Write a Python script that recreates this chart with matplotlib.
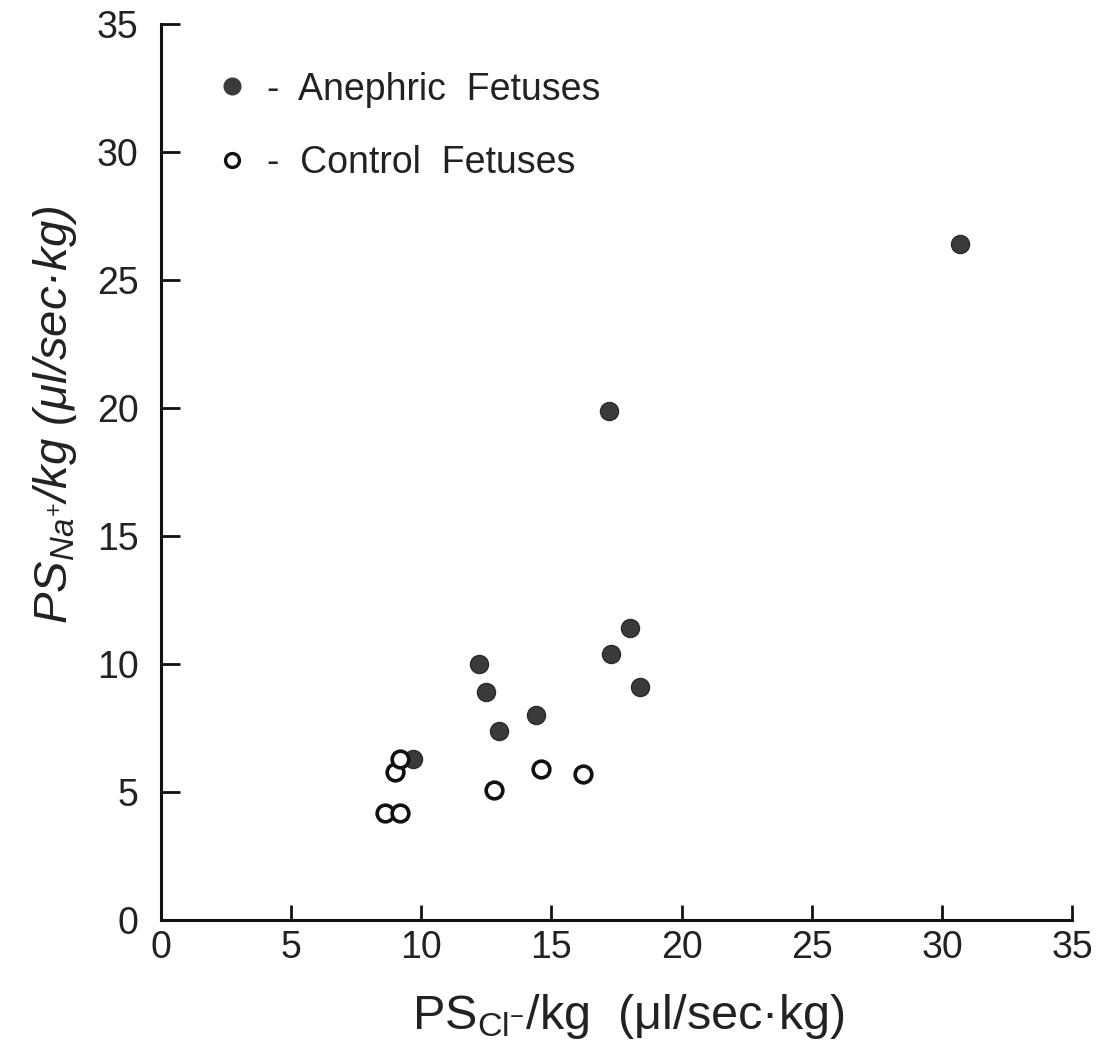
import matplotlib
matplotlib.use("Agg")
from matplotlib import pyplot as plt
from matplotlib.lines import Line2D

# anephric fetuses (filled)
aneph_x = [9.7, 12.2, 12.5, 13.0, 14.4, 17.2, 17.3, 18.0, 18.4, 30.7]
aneph_y = [6.3, 10.0, 8.9, 7.4, 8.0, 19.9, 10.4, 11.4, 9.1, 26.4]

# control fetuses (open)
ctrl_x = [8.6, 9.2, 9.0, 9.2, 12.8, 14.6, 16.2]
ctrl_y = [4.2, 4.2, 5.8, 6.3, 5.1, 5.9, 5.7]

ticks = [0, 5, 10, 15, 20, 25, 30, 35]

plt.rcParams['font.family'] = ['Liberation Sans', 'DejaVu Sans']
plt.rcParams['mathtext.fontset'] = 'custom'
plt.rcParams['mathtext.rm'] = 'Liberation Sans'
plt.rcParams['mathtext.it'] = 'Liberation Sans:italic'

fig = plt.figure(figsize=(11.02, 10.59), dpi=100)
ax = fig.add_axes([0.146, 0.131, 0.827, 0.846])

ax.plot(aneph_x, aneph_y, 'o', ms=13, color='#3a3a3a', mec='#2a2a2a', ls='none')
ax.plot(ctrl_x, ctrl_y, 'o', ms=12, mfc='white', mec='#111111', mew=2.6, ls='none')

ax.set_xlim(0, 35)
ax.set_ylim(0, 35)
ax.set_xticks(ticks)
ax.set_yticks(ticks)
ax.tick_params(direction='in', width=2, labelsize=27, color='#111111',
               labelcolor='#222222')
ax.tick_params(axis='x', pad=7, length=11)
ax.tick_params(axis='y', pad=16, length=14)

for s in ['top', 'right']:
    ax.spines[s].set_visible(False)
for s in ['left', 'bottom']:
    ax.spines[s].set_linewidth(2.2)
    ax.spines[s].set_color('#111111')

ax.set_xlabel(r"PS$_{\rm Cl^{-}}$/kg  (μl/sec·kg)", fontsize=35, color='#222222')
ax.xaxis.set_label_coords(0.513, -0.08)
ax.set_ylabel(r"PS$_{Na^{+}}$/kg (μl/sec·kg)", fontsize=34, style='italic',
              color='#222222')
ax.yaxis.set_label_coords(-0.09, 0.564)

handles = [
    Line2D([], [], marker='o', ls='none', ms=12, color='#3a3a3a'),
    Line2D([], [], marker='o', ls='none', ms=10, mfc='white', mec='#111111', mew=2.4),
]
ax.legend(handles, ["-  Anephric  Fetuses", "-  Control  Fetuses"],
          loc='upper left', bbox_to_anchor=(0.02, 0.985), frameon=False,
          fontsize=27, handlelength=1.0, handletextpad=0.45, labelspacing=1.0,
          labelcolor='#222222')

fig.savefig("out.png", dpi=100, facecolor='white')
